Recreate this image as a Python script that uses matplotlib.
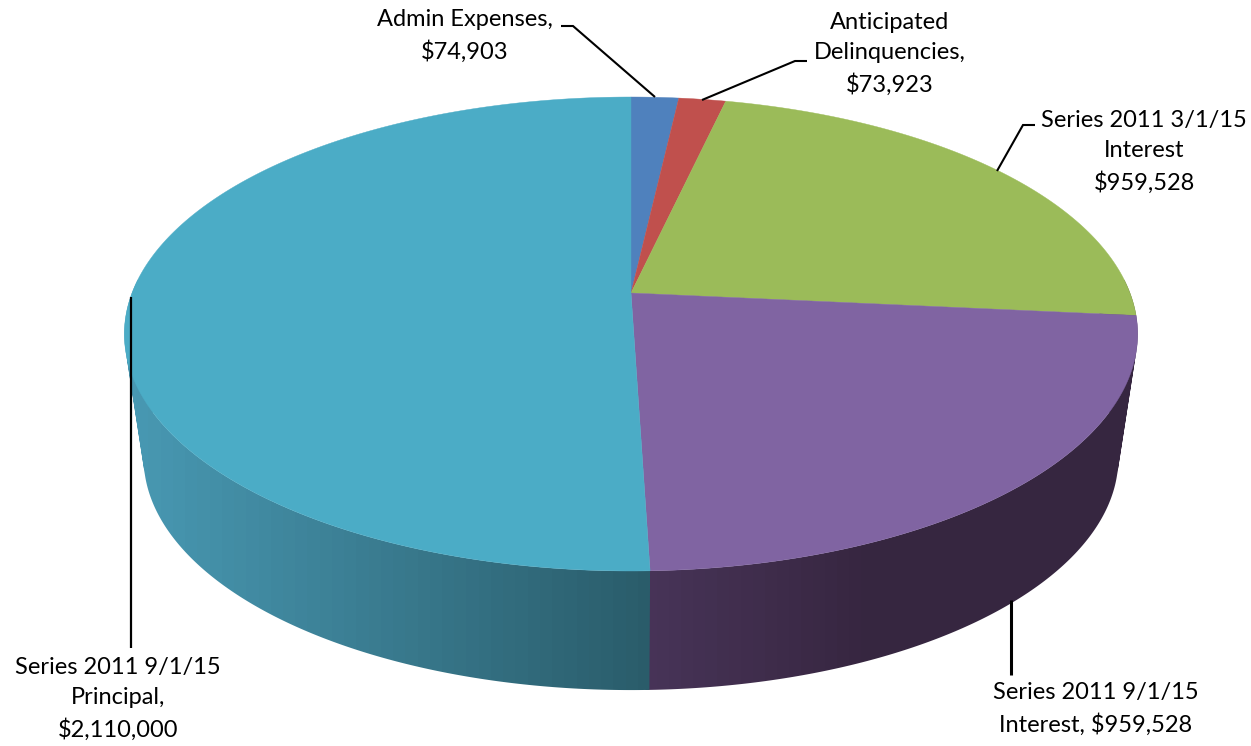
import numpy as np
import matplotlib
matplotlib.use("Agg")
import matplotlib.pyplot as plt
from matplotlib.patches import Polygon, PathPatch
from matplotlib.path import Path

categories = ["Admin Expenses", "Anticipated Delinquencies", "Series 2011 3/1/15 Interest",
              "Series 2011 9/1/15 Interest", "Series 2011 9/1/15 Principal"]
values = [74903, 73923, 959528, 959528, 2110000]
top_colors = ["#4F81BD", "#C0504D", "#9BBB59", "#8064A2", "#4BACC6"]
label_texts = ["Admin Expenses,\n$74,903", "Anticipated\nDelinquencies,\n$73,923",
               "Series 2011 3/1/15\nInterest\n$959,528", "Series 2011 9/1/15\nInterest, $959,528",
               "Series 2011 9/1/15\nPrincipal,\n$2,110,000"]
label_pos = [(465, 36), (890, 54), (1144, 152), (1096, 709), (118, 699)]
leaders = [[(561, 26), (573, 26), (655, 97)],
           [(807, 61), (795, 61), (702, 100)],
           [(1035, 125), (1023, 125), (997, 171)],
           [(1010.5, 600), (1010.5, 675)],
           [(131, 297), (131, 648)]]
leader_w = [1.5, 1.5, 1.5, 2.2, 1.6]

CX, KP = 631.0, 0.173
TOP = dict(a=499.0, b=229.9, cy=293.0)
BOT = dict(a=480.0, b=225.0, cy=418.0)


def project(theta, disk):
    u, v = np.sin(theta), np.cos(theta)
    w = 1 + KP * v
    return np.column_stack([CX + disk["a"] * u / w, disk["cy"] - disk["b"] * v / w])


def side_gradient(i, x):
    if i == 4:
        t = np.clip((x - 140) / 510, 0, 1)
        c0, c1 = np.array([72, 152, 178]), np.array([42, 92, 106])
    else:
        t = np.clip((x - 650) / 220, 0, 1)
        c0, c1 = np.array([72, 52, 88]), np.array([54, 38, 64])
    return (c0 + (c1 - c0) * t[:, None]) / 255


def oriented_quad(p):
    x, y = p[:, 0], p[:, 1]
    area = np.sum(x * np.roll(y, -1) - np.roll(x, -1) * y)
    q = p if area > 0 else p[::-1]
    return Path(np.vstack([q, q[:1]]), closed=True)


fig = plt.figure(figsize=(12.51, 7.46), dpi=100)
ax = fig.add_axes([0, 0, 1, 1])
plt.rcParams["font.family"] = ["Lato", "DejaVu Sans"]
ax.axis("off")

edges = np.cumsum([0] + values) / sum(values) * 2 * np.pi

# side walls: vertical colour bands clipped to the swept wall shape
for i in range(len(values)):
    lo, hi = max(edges[i], np.radians(80)), min(edges[i + 1], np.radians(285))
    if hi <= lo:
        continue
    # the earlier wall runs slightly under the next one so no seam shows between them
    hi = hi + np.radians(0.4) if i == 3 else hi
    n = max(int((hi - lo) / np.radians(0.5)), 2)
    th = np.linspace(lo, hi, n + 1)
    ptop, pbot = project(th, TOP), project(th, BOT)
    quads = [oriented_quad(np.array([ptop[k], ptop[k + 1], pbot[k + 1], pbot[k]])) for k in range(n)]
    shape = Path.make_compound_path(*quads)
    x0, x1 = shape.vertices[:, 0].min(), shape.vertices[:, 0].max()
    nb = max(int((x1 - x0) / 12), 2)
    xc = x0 + (np.arange(nb) + 0.5) * (x1 - x0) / nb
    im = ax.imshow(side_gradient(i, xc)[None, :, :], extent=(x0, x1, 700, 280), aspect="auto",
                   interpolation="nearest", zorder=1)
    im.set_clip_path(PathPatch(shape, transform=ax.transData))

ax.set_xlim(0, 1251)
ax.set_ylim(746, 0)

# top face
for i in range(len(values)):
    th = np.linspace(edges[i], edges[i + 1], 240)
    pts = np.vstack([[CX, TOP["cy"]], project(th, TOP)])
    ax.add_patch(Polygon(pts, closed=True, facecolor=top_colors[i], edgecolor=top_colors[i], lw=0.3, zorder=2))

# leader lines and labels
for line, w in zip(leaders, leader_w):
    xs, ys = zip(*line)
    ax.plot(xs, ys, color="black", lw=w, zorder=3, solid_capstyle="butt", solid_joinstyle="miter")
for txt, (x, y) in zip(label_texts, label_pos):
    ax.text(x, y, txt, ha="center", va="center", fontsize=17, color="black",
            linespacing=1.56, zorder=4)

fig.savefig("out.png", dpi=100)
